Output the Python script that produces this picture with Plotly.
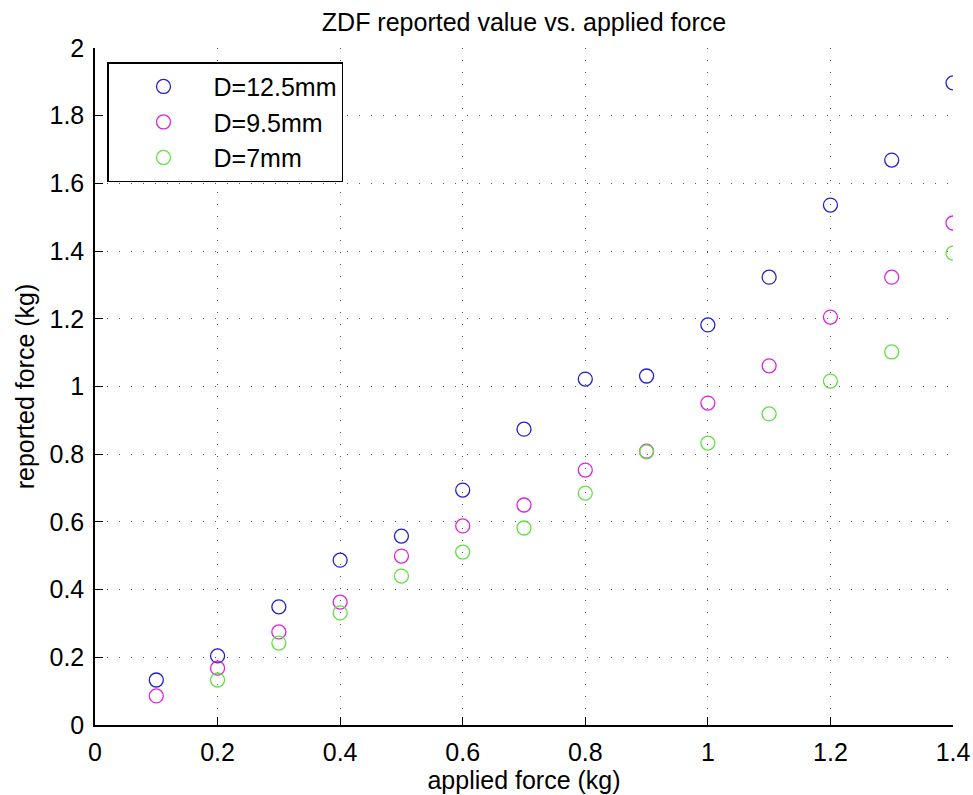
import plotly.graph_objects as go

applied = [0.1, 0.2, 0.3, 0.4, 0.5, 0.6, 0.7, 0.8, 0.9, 1.0, 1.1, 1.2, 1.3, 1.4]
d125 = [0.133, 0.204, 0.349, 0.487, 0.558, 0.694, 0.874, 1.022, 1.031, 1.182, 1.323, 1.536, 1.669, 1.897]
d95 = [0.086, 0.168, 0.275, 0.363, 0.499, 0.588, 0.650, 0.753, 0.809, 0.951, 1.061, 1.205, 1.323, 1.483]
applied7 = [0.2, 0.3, 0.4, 0.5, 0.6, 0.7, 0.8, 0.9, 1.0, 1.1, 1.2, 1.3, 1.4]
d7 = [0.133, 0.242, 0.331, 0.440, 0.511, 0.582, 0.685, 0.807, 0.833, 0.919, 1.016, 1.102, 1.394]

xticks = [0, 0.2, 0.4, 0.6, 0.8, 1, 1.2, 1.4]
xticklabels = ["0", "0.2", "0.4", "0.6", "0.8", "1", "1.2", "1.4"]
yticks = [0, 0.2, 0.4, 0.6, 0.8, 1, 1.2, 1.4, 1.6, 1.8, 2]
yticklabels = ["0", "0.2", "0.4", "0.6", "0.8", "1", "1.2", "1.4", "1.6", "1.8", "2"]

FONT = "Liberation Sans, Arial, Helvetica, sans-serif"
FS = 25

fig = go.Figure()
for x, y, name, color in [
    (applied, d125, "D=12.5mm", "#2020d0"),
    (applied, d95, "D=9.5mm", "#e020e0"),
    (applied7, d7, "D=7mm", "#60e040"),
]:
    fig.add_trace(go.Scatter(
        x=x, y=y, mode="markers", name=name,
        marker=dict(symbol="circle-open", size=14, color=color, line=dict(width=1.3, color=color)),
    ))

common = dict(showgrid=True, gridcolor="#555555", gridwidth=1, griddash="1px,11px",
              zeroline=False, showline=True, linecolor="black", linewidth=1.5,
              ticks="inside", ticklen=8, tickcolor="black", mirror=False, automargin=False,
              tickfont=dict(size=FS, color="black", family=FONT))

fig.update_layout(
    width=973, height=795,
    margin=dict(l=95, r=20, t=48, b=70),
    paper_bgcolor="white", plot_bgcolor="white",
    font=dict(family=FONT, color="black"),
    title=dict(text="ZDF reported value vs. applied force", x=(95 + 858 / 2) / 973, xanchor="center",
               y=1 - 22 / 795, yanchor="middle", font=dict(size=FS, color="black")),
    xaxis=dict(range=[0, 1.4], tickvals=xticks, ticktext=xticklabels, ticklabelstandoff=4,
               title=dict(text="applied force (kg)", font=dict(size=FS), standoff=4), **common),
    yaxis=dict(range=[0, 2], tickvals=yticks, ticktext=yticklabels, ticklabelstandoff=4,
               title=dict(text="reported force (kg)", font=dict(size=FS), standoff=8), **common),
    legend=dict(x=0.014, y=0.979, xanchor="left", yanchor="top",
                bordercolor="black", borderwidth=1.5, bgcolor="white",
                font=dict(size=FS, color="black"), itemwidth=90, indentation=5),
    showlegend=True,
)

fig.write_html("out.html")
